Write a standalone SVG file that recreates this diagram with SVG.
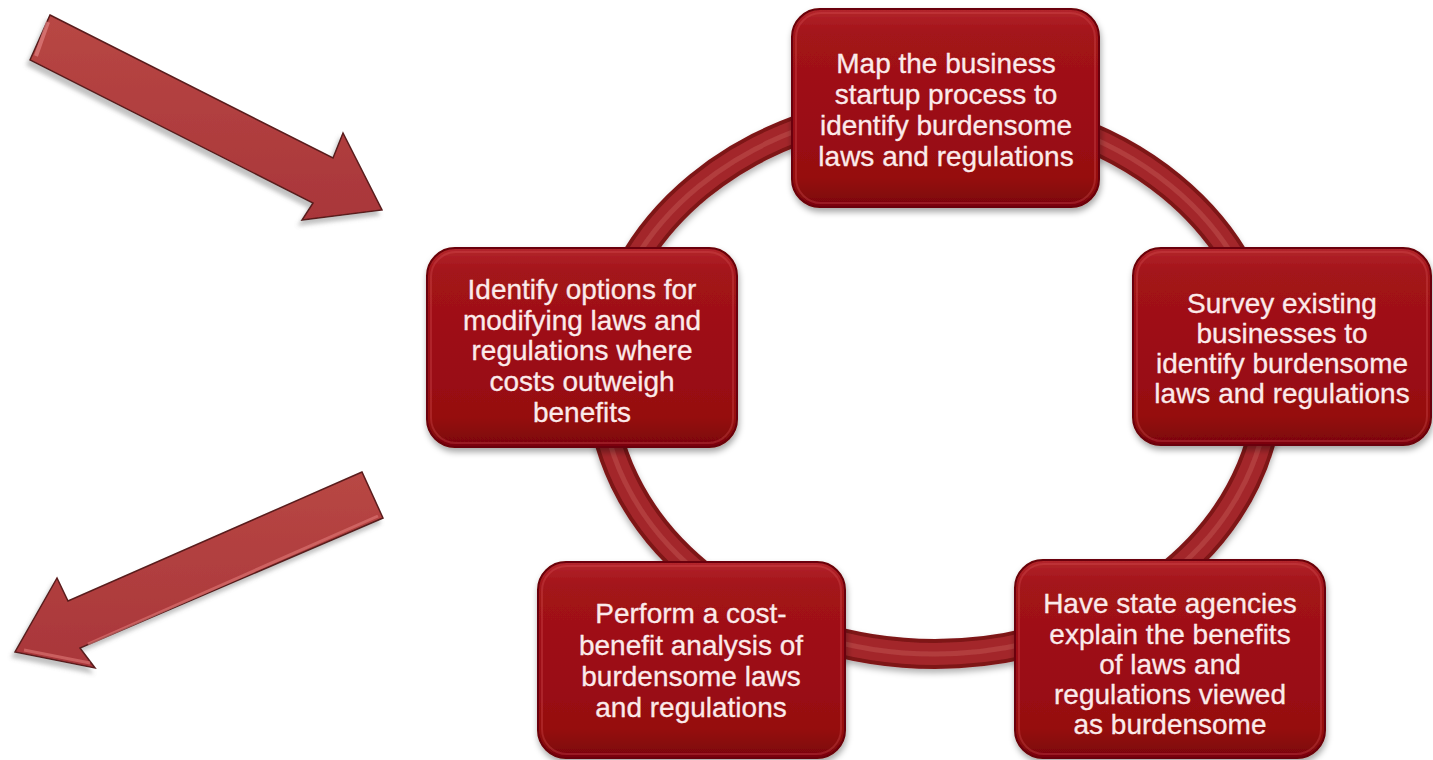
<svg xmlns="http://www.w3.org/2000/svg" width="1433" height="760" viewBox="0 0 1433 760">
<style>
.lbl{font-family:"Liberation Sans",Arial,sans-serif;font-size:28px;fill:#fbeaea;text-anchor:middle;stroke:#fbeaea;stroke-width:0.3}
.box{fill:url(#nodeGrad);stroke:#6a0407;stroke-width:2;filter:url(#shadow)}
.shine{fill:none;stroke:#d9555a;stroke-opacity:0.3;stroke-width:2}
.arrow{fill:url(#arrowGrad);stroke:#5a1c1c;stroke-width:1.5;filter:url(#ashadow)}
</style>
<defs>
<linearGradient id="nodeGrad" x1="0" y1="0" x2="0" y2="1">
<stop offset="0" stop-color="#b3262b"/>
<stop offset="0.12" stop-color="#a3131a"/>
<stop offset="0.85" stop-color="#960b10"/>
<stop offset="1" stop-color="#7a0509"/>
</linearGradient>
<linearGradient id="arrowGrad" x1="0" y1="0" x2="0" y2="1">
<stop offset="0" stop-color="#b84744"/>
<stop offset="1" stop-color="#a9363a"/>
</linearGradient>
<filter id="shadow" x="-10%" y="-10%" width="120%" height="125%">
<feDropShadow dx="1" dy="4" stdDeviation="3" flood-color="#000" flood-opacity="0.35"/>
</filter>
<filter id="ashadow" x="-10%" y="-20%" width="120%" height="140%">
<feDropShadow dx="-3" dy="5" stdDeviation="2" flood-color="#777" flood-opacity="0.45"/>
</filter>
<filter id="rshadow" x="-10%" y="-10%" width="120%" height="125%">
<feDropShadow dx="0" dy="4" stdDeviation="3" flood-color="#000" flood-opacity="0.3"/>
</filter>
</defs>

<g id="connectors">
<g id="ring" filter="url(#rshadow)">
<ellipse cx="935" cy="380" rx="334" ry="274" fill="none" stroke="#7e1518" stroke-width="30"/>
<ellipse cx="935" cy="380" rx="334" ry="274" fill="none" stroke="#a3282b" stroke-width="22"/>
<ellipse cx="935" cy="380" rx="334" ry="274" fill="none" stroke="#c85a5c" stroke-opacity="0.4" stroke-width="5"/>
</g>
<g id="arrow-in">
<polygon class="arrow" points="50,15 333,158 343,133 382,210 302,220 313,203 30,60"/>
<path d="M48,22 L36,56" stroke="#e08080" stroke-width="4" stroke-opacity="0.7" fill="none"/>
</g>
<g id="arrow-out">
<polygon class="arrow" points="362,472 68,601 57,578 15,652 95,668 80,648 383,518"/>
<path d="M88,644 L378,516" stroke="#e07a78" stroke-width="3" stroke-opacity="0.6" fill="none"/>
<path d="M24,650 L90,663" stroke="#e07a78" stroke-width="3" stroke-opacity="0.6" fill="none"/>
</g>
</g>

<g id="node-map">
<rect class="box" x="792" y="9" width="307" height="198" rx="28"/>
<rect class="shine" x="796" y="13" width="299" height="190" rx="25"/>
<text class="lbl"><tspan x="946" y="73">Map the business</tspan><tspan x="946" y="104">startup process to</tspan><tspan x="946" y="135">identify burdensome</tspan><tspan x="946" y="166">laws and regulations</tspan></text>
</g>

<g id="node-survey">
<rect class="box" x="1133" y="248" width="298" height="197" rx="28"/>
<rect class="shine" x="1137" y="252" width="290" height="189" rx="25"/>
<text class="lbl"><tspan x="1282" y="313">Survey existing</tspan><tspan x="1282" y="343">businesses to</tspan><tspan x="1282" y="373">identify burdensome</tspan><tspan x="1282" y="403">laws and regulations</tspan></text>
</g>

<g id="node-agencies">
<rect class="box" x="1015" y="560" width="310" height="198" rx="28"/>
<rect class="shine" x="1019" y="564" width="302" height="190" rx="25"/>
<text class="lbl"><tspan x="1170" y="613">Have state agencies</tspan><tspan x="1170" y="644">explain the benefits</tspan><tspan x="1170" y="674">of laws and</tspan><tspan x="1170" y="704">regulations viewed</tspan><tspan x="1170" y="734">as burdensome</tspan></text>
</g>

<g id="node-costbenefit">
<rect class="box" x="538" y="562" width="307" height="196" rx="28"/>
<rect class="shine" x="542" y="566" width="299" height="188" rx="25"/>
<text class="lbl"><tspan x="691" y="623">Perform a cost-</tspan><tspan x="691" y="655">benefit analysis of</tspan><tspan x="691" y="686">burdensome laws</tspan><tspan x="691" y="717">and regulations</tspan></text>
</g>

<g id="node-options">
<rect class="box" x="427" y="248" width="310" height="199" rx="28"/>
<rect class="shine" x="431" y="252" width="302" height="191" rx="25"/>
<text class="lbl"><tspan x="582" y="299">Identify options for</tspan><tspan x="582" y="330">modifying laws and</tspan><tspan x="582" y="360">regulations where</tspan><tspan x="582" y="391">costs outweigh</tspan><tspan x="582" y="422">benefits</tspan></text>
</g>
</svg>
